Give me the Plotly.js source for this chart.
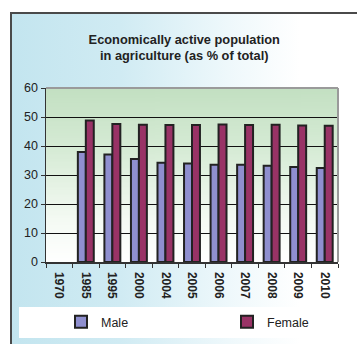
<!DOCTYPE html>
<html>
<head>
<meta charset="utf-8">
<script src="https://cdn.plot.ly/plotly-3.0.1.min.js"></script>
<style>
  html, body { margin: 0; padding: 0; background: #fff; }
  #wrap { position: relative; width: 357px; height: 344px; overflow: hidden; }
  #frame { position: absolute; left: 10px; top: 12px; width: 360px; height: 350px;
           border-left: 2px solid #4a4a4a; border-top: 2px solid #4a4a4a;
           background: linear-gradient(to right, #c3e5ef 0%, #d0ebf3 30%, #eef8fb 60%, #ffffff 80%); }
  #legbox { position: absolute; left: 19px; top: 307px; width: 321px; height: 31px; background: #fff; }
  #chart { position: absolute; left: 0; top: 0; width: 357px; height: 344px; }
</style>
</head>
<body>
<div id="wrap">
  <div id="frame"></div>
  <div id="legbox"></div>
  <div id="chart"></div>
</div>
<script>
const years = ['1970','1985','1995','2000','2004','2005','2006','2007','2008','2009','2010'];
const male = [null, 37.9, 37.1, 35.5, 34.2, 34.0, 33.5, 33.5, 33.2, 32.8, 32.4];
const female = [null, 48.8, 47.6, 47.3, 47.2, 47.2, 47.4, 47.2, 47.3, 47.1, 47.0];

function gradURL() {
  const c = document.createElement('canvas');
  c.width = 4; c.height = 200;
  const g = c.getContext('2d');
  const lg = g.createLinearGradient(0, 0, 0, 200);
  lg.addColorStop(0, '#c3e0c2');
  lg.addColorStop(0.35, '#d6ebd5');
  lg.addColorStop(0.75, '#f4faf3');
  lg.addColorStop(1, '#ffffff');
  g.fillStyle = lg; g.fillRect(0, 0, 4, 200);
  return c.toDataURL();
}

const traces = [
  { type: 'bar', name: 'Male', x: years, y: male, legend: 'legend', showlegend: true,
    marker: { color: '#8f8fcf', line: { color: '#222', width: 2 } } },
  { type: 'bar', name: 'Female', x: years, y: female, legend: 'legend2', showlegend: true,
    marker: { color: '#993366', line: { color: '#222', width: 2 } } }
];

function legendAt(px) {
  return { orientation: 'h', xref: 'container', yref: 'container', xanchor: 'left', x: px / 357,
           y: 1 - 322/344, yanchor: 'middle', bgcolor: 'rgba(0,0,0,0)', visible: true,
           font: { size: 12.5, color: '#222' }, itemclick: false };
}

const layout = {
  width: 357, height: 344,
  showlegend: true,
  margin: { l: 45.5, r: 19, t: 88, b: 82, autoexpand: false },
  paper_bgcolor: 'rgba(0,0,0,0)',
  plot_bgcolor: 'rgba(0,0,0,0)',
  font: { family: 'Liberation Sans, Arial, sans-serif', color: '#222', size: 12 },
  title: { text: '<b>Economically active population<br>in agriculture (as % of total)</b>',
           font: { size: 12.8, color: '#222' }, x: 0.4735, xref: 'paper', xanchor: 'center',
           y: 1 - 43.5/344, yref: 'container', yanchor: 'middle' },
  barmode: 'group', bargap: 0.4, bargroupgap: 0,
  xaxis: { type: 'category', tickangle: 90, tickson: 'boundaries', ticks: 'outside', ticklen: 4,
           tickcolor: '#333', showline: true, linecolor: '#333', linewidth: 1.5,
           tickfont: { size: 12, color: '#222', family: 'Liberation Sans, Arial, sans-serif', weight: 'bold' },
           ticklabelstandoff: 6, showgrid: false, fixedrange: true },
  yaxis: { range: [0, 60], dtick: 10, ticks: 'outside', ticklen: 4, tickcolor: '#333',
           showline: true, linecolor: '#333', linewidth: 1.5,
           showgrid: true, gridcolor: '#111', gridwidth: 1, zeroline: false,
           tickfont: { size: 12.5, color: '#222' }, fixedrange: true },
  legend: legendAt(61),
  legend2: legendAt(227),
  images: [{ source: gradURL(), xref: 'x domain', yref: 'y domain', x: 0, y: 1,
             sizex: 1, sizey: 1, sizing: 'stretch', layer: 'below', xanchor: 'left', yanchor: 'top' }],
  shapes: [
    { type: 'line', xref: 'x domain', yref: 'y domain', x0: 0, x1: 1, y0: 1, y1: 1,
      line: { color: '#9a9a9a', width: 2 } },
    { type: 'line', xref: 'x domain', yref: 'y domain', x0: 1, x1: 1, y0: 0, y1: 1,
      line: { color: '#9a9a9a', width: 2 } }
  ]
};

Plotly.newPlot('chart', traces, layout, { displayModeBar: false, staticPlot: true });
</script>
</body>
</html>
